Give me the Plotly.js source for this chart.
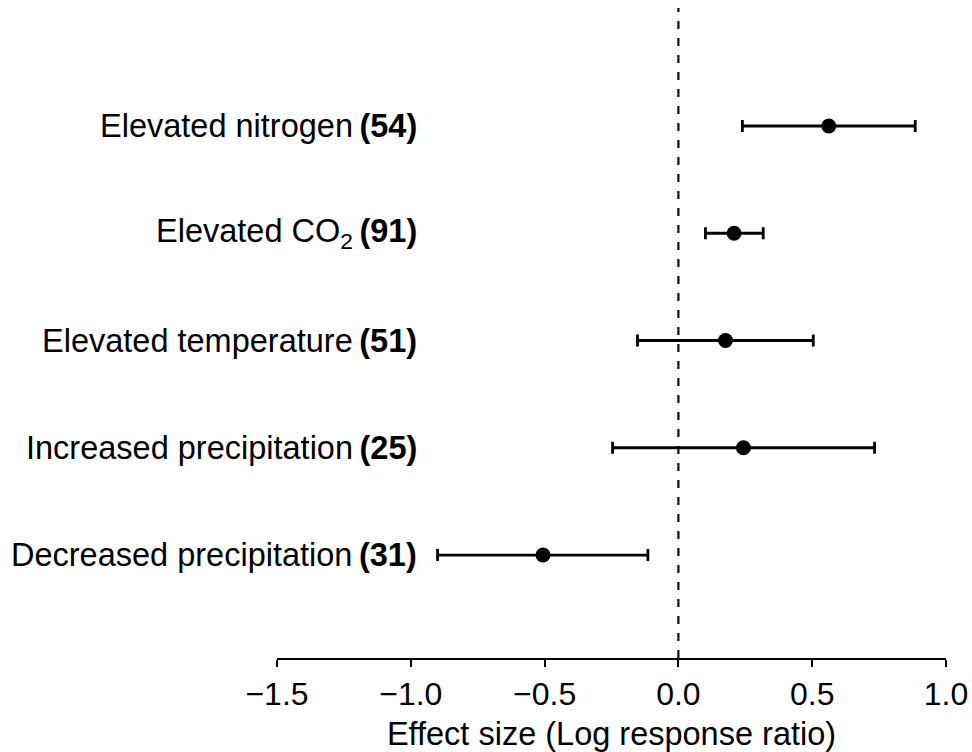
<!DOCTYPE html>
<html>
<head>
<meta charset="utf-8">
<script src="https://cdn.plot.ly/plotly-3.0.1.min.js"></script>
<style>html,body{margin:0;padding:0;background:#fff;}#chart{width:972px;height:752px;}</style>
</head>
<body>
<div id="chart"></div>
<script>
// Data
const categories = ["Elevated nitrogen", "Elevated CO<sub>2</sub>", "Elevated temperature", "Increased precipitation", "Decreased precipitation"];
const nStudies = [54, 91, 51, 25, 31];
const effectMean = [0.562, 0.208, 0.176, 0.243, -0.506];
const ciLower = [0.239, 0.101, -0.153, -0.246, -0.900];
const ciUpper = [0.885, 0.317, 0.504, 0.733, -0.114];
const xTicks = [-1.5, -1.0, -0.5, 0.0, 0.5, 1.0];

const rowPos = categories.map((c, i) => categories.length - i);
const FONT = "Liberation Sans, Arial, Helvetica, sans-serif";

const trace = {
  type: "scatter",
  mode: "markers",
  x: effectMean,
  y: rowPos,
  marker: {color: "#000", size: 15},
  error_x: {
    type: "data",
    symmetric: false,
    array: effectMean.map((m, i) => ciUpper[i] - m),
    arrayminus: effectMean.map((m, i) => m - ciLower[i]),
    color: "#000",
    thickness: 2.8,
    width: 6
  },
  hoverinfo: "skip",
  showlegend: false
};

const annotations = categories.map((c, i) => ({
  xref: "paper", yref: "y",
  x: 0.212, y: rowPos[i],
  xanchor: "right", yanchor: "middle",
  text: c + "\u2009<b>(" + nStudies[i] + ")</b>",
  showarrow: false,
  font: {family: FONT, size: 32.5, color: "#000"}
}));

const layout = {
  width: 972, height: 752,
  margin: {l: 277, r: 26, t: 8, b: 94},
  paper_bgcolor: "#fff", plot_bgcolor: "#fff",
  font: {family: FONT, color: "#000"},
  xaxis: {
    range: [-1.5, 1.0],
    tickvals: xTicks,
    tickformat: ".1f",
    showgrid: false, zeroline: false,
    showline: true, linecolor: "#000", linewidth: 2,
    ticks: "outside", ticklen: 7, tickwidth: 2, tickcolor: "#000",
    tickfont: {family: FONT, size: 32, color: "#000"},
    title: {text: "Effect size (Log response ratio)", font: {family: FONT, size: 32.5, color: "#000"}, standoff: 12},
    automargin: false,
    fixedrange: true
  },
  yaxis: {
    range: [0.04, 6.1],
    visible: false,
    fixedrange: true
  },
  shapes: [{
    type: "line", xref: "x", yref: "paper",
    x0: 0, x1: 0, y0: 0, y1: 1,
    line: {color: "#111", width: 2.2, dash: "8px,9px"},
    layer: "below"
  }],
  annotations: annotations
};

Plotly.newPlot("chart", [trace], layout, {displayModeBar: false, staticPlot: true});
</script>
</body>
</html>
